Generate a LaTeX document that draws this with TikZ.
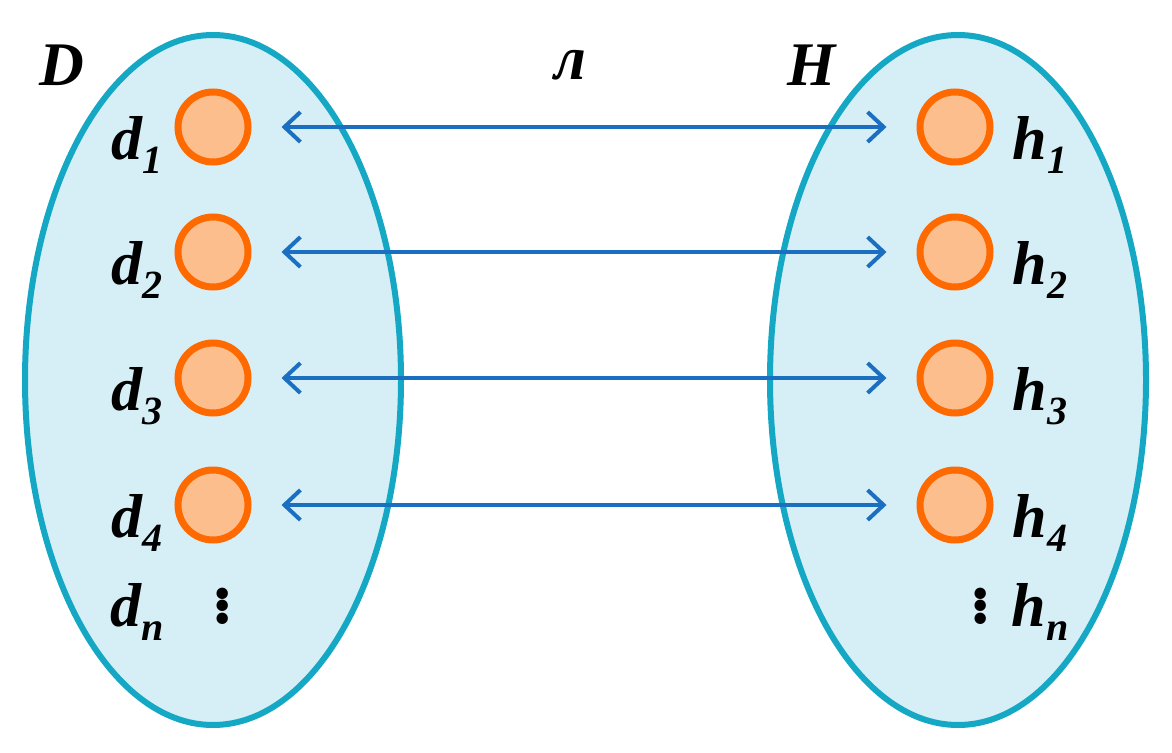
\documentclass[tikz,border=0pt]{standalone}
\usepackage{fontspec}
\setmainfont{Liberation Serif}
\usetikzlibrary{arrows.meta}
\definecolor{ell}{HTML}{14A8C4}
\definecolor{ellf}{HTML}{D6EEF6}
\definecolor{dotc}{HTML}{FF6A00}
\definecolor{dotf}{HTML}{FDBE8E}
\definecolor{arr}{HTML}{1A6FC0}
\newcommand{\sbs}[1]{\raisebox{-14pt}{\fontsize{40}{40}\selectfont #1}}
\begin{document}
\begin{tikzpicture}[x=1pt,y=-1pt,
  set/.style={draw=ell,fill=ellf,line width=6pt},
  el/.style={circle,draw=dotc,fill=dotf,line width=7pt,minimum size=70pt,inner sep=0pt},
  lab/.style={font=\fontsize{62}{62}\selectfont\bfseries\itshape,inner sep=0pt},
  link/.style={draw=arr,line width=4pt,{Straight Barb[length=16pt,width=30pt,line width=4pt]}-{Straight Barb[length=16pt,width=30pt,line width=4pt]}}]
\useasboundingbox (0,0) rectangle (1172,752);
\draw[set] (213,380) ellipse [x radius=188,y radius=345];
\draw[set] (958,380) ellipse [x radius=188,y radius=345];
\node[lab] (D) at (62,65) {D};
\node[lab] (H) at (812,65) {H};
\node[lab] (L) at (570,65) {л};
\foreach \i/\y in {1/127,2/252,3/378,4/505}{
  \node[el] (d\i) at (213,\y) {};
  \node[el] (h\i) at (955,\y) {};
  \node[lab] (dl\i) at (137,\y+18) {d\sbs{\i}};
  \node[lab] (hl\i) at (1040,\y+18) {h\sbs{\i}};
  \path (d\i.east)++(30,0) coordinate (a\i) (h\i.west)++(-30,0) coordinate (b\i);
  \draw[link] (a\i) -- (b\i);
}
\node[lab] (dn) at (137,612) {d\sbs{n}};
\node[lab] (hn) at (1040,612) {h\sbs{n}};
\node[lab] (dd) at (225,603) {\fontsize{70}{70}\selectfont$\vdots$};
\node[lab] (hd) at (983,603) {\fontsize{70}{70}\selectfont$\vdots$};
\end{tikzpicture}
\end{document}
